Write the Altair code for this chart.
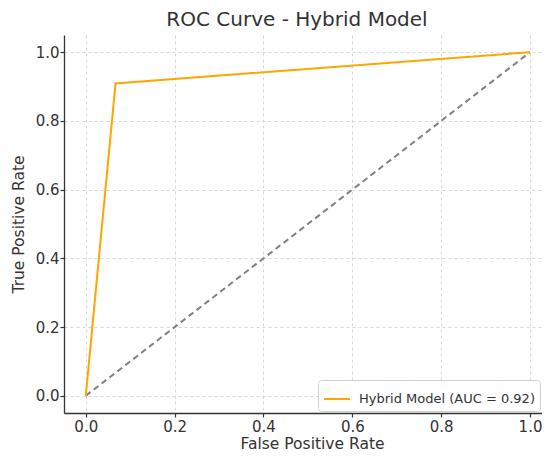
import altair as alt
import pandas as pd

fpr = [0.0, 0.067, 1.0]
tpr = [0.0, 0.909, 1.0]
diag_x = [0.0, 1.0]
diag_y = [0.0, 1.0]
series_name = "Hybrid Model (AUC = 0.92)"
tick_values = [0.0, 0.2, 0.4, 0.6, 0.8, 1.0]

roc_df = pd.DataFrame({"fpr": fpr, "tpr": tpr, "series": [series_name] * len(fpr)})
diag_df = pd.DataFrame({"fpr": diag_x, "tpr": diag_y})

xscale = alt.Scale(domain=[-0.049, 1.027], nice=False, zero=False)
yscale = alt.Scale(domain=[-0.05, 1.05], nice=False, zero=False)
xaxis = alt.Axis(values=tick_values, format=".1f", title="False Positive Rate",
                 labelFlush=False, titleX=248)
yaxis = alt.Axis(values=tick_values, format=".1f", title="True Positive Rate")

diag = alt.Chart(diag_df).mark_line(
    color="#808080", strokeWidth=2, strokeDash=[6, 4]
).encode(
    x=alt.X("fpr:Q", scale=xscale, axis=xaxis),
    y=alt.Y("tpr:Q", scale=yscale, axis=yaxis),
)

roc = alt.Chart(roc_df).mark_line(strokeWidth=2).encode(
    x=alt.X("fpr:Q", scale=xscale, axis=xaxis),
    y=alt.Y("tpr:Q", scale=yscale, axis=yaxis),
    color=alt.Color(
        "series:N",
        scale=alt.Scale(domain=[series_name], range=["#FFA500"]),
        legend=alt.Legend(
            title=None,
            orient="bottom-right",
            symbolType="stroke",
            symbolStrokeWidth=2,
            symbolSize=676,
            labelFontSize=13,
            labelLimit=400,
            labelOffset=8,
            labelColor="#333333",
            fillColor="white",
            strokeColor="#d0d0d0",
            cornerRadius=3,
            padding=5,
            offset=2,
        ),
    ),
    order=alt.Order("fpr:Q"),
)

chart = (
    alt.layer(diag, roc)
    .properties(
        width=478,
        height=378,
        padding={"left": 3, "top": 2, "right": 0, "bottom": 0},
        title=alt.TitleParams(
            "ROC Curve - Hybrid Model",
            fontSize=20,
            fontWeight="normal",
            color="#333333",
            font="DejaVu Sans",
            offset=5,
            dx=-6,
        ),
    )
    .configure(font="DejaVu Sans")
    .configure_view(stroke=None)
    .configure_axis(
        domainColor="#333333",
        domainWidth=1.3,
        tickColor="#333333",
        tickSize=4,
        tickWidth=1.2,
        labelFontSize=15,
        labelColor="#333333",
        titleFontSize=15.5,
        titleFontWeight="normal",
        titleColor="#333333",
        gridColor="#cccccc",
        gridDash=[3, 3],
        gridWidth=0.8,
    )
    .configure_axisX(titlePadding=2, labelPadding=2)
    .configure_axisY(titlePadding=9, labelPadding=1)
)

chart.save("out.html", embed_options={"renderer": "svg", "actions": False})
